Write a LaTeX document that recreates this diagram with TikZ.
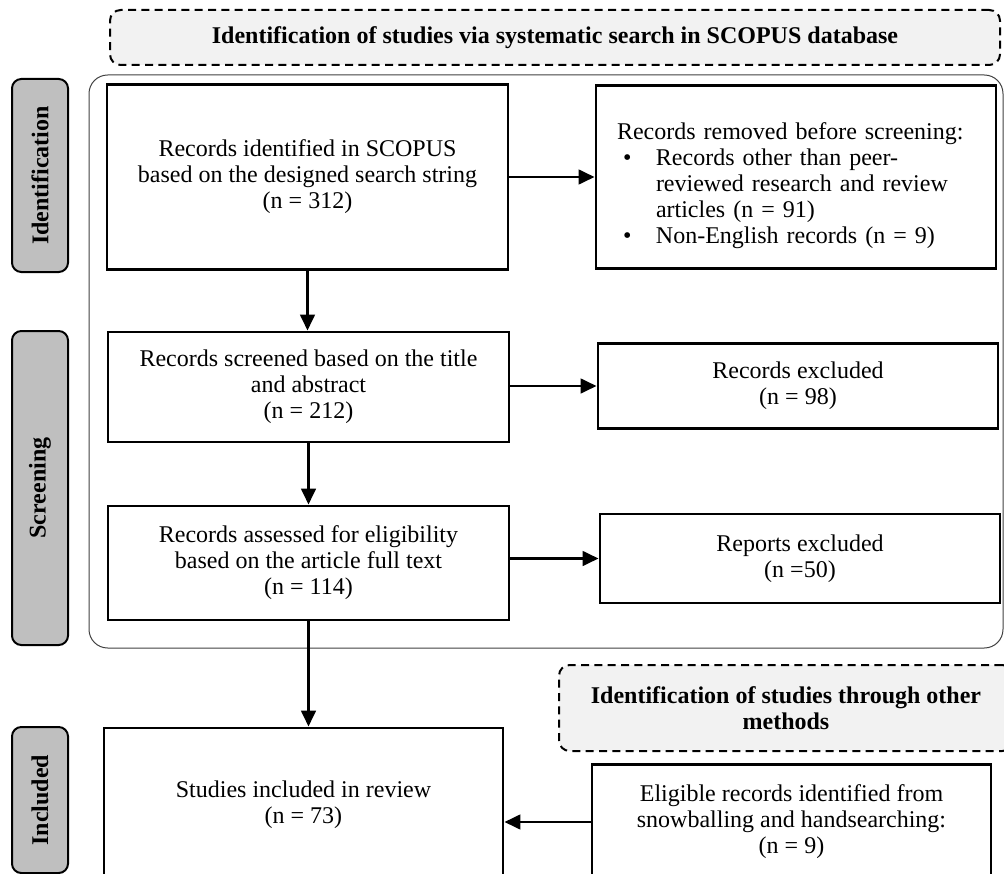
\documentclass[tikz,border=0pt]{standalone}
\usepackage{fontspec}
\setmainfont{Liberation Serif}
\usetikzlibrary{arrows.meta}
\definecolor{hdrgray}{HTML}{F2F2F2}
\definecolor{tabgray}{HTML}{BFBFBF}
\begin{document}
\begin{tikzpicture}[x=0.75pt,y=-0.75pt,
  box/.style={draw, line width=2.2pt, fill=white, align=center, inner sep=0pt,
    font=\fontsize{18}{19.5}\selectfont},
  dashbox/.style={draw, line width=1.5pt, dash pattern=on 6pt off 4pt, fill=hdrgray,
    rounded corners=8pt, align=center, inner sep=0pt,
    font=\bfseries\fontsize{18}{19.5}\selectfont},
  tabbox/.style={draw, line width=1.5pt, fill=tabgray, rounded corners=7pt, rotate=90,
    minimum height=42pt, inner sep=0pt, font=\bfseries\fontsize{18}{19.5}\selectfont},
  arr/.style={line width=2pt, -{Triangle[length=12pt,width=11pt]}}
]
\useasboundingbox (0,0) rectangle (1004,874);
\clip (0,0) rectangle (1004,874);

% header and frame
\node[dashbox, minimum width=667.5pt, minimum height=41.25pt] (hdr1) at (555,37.5)
  {Identification of studies via systematic search in SCOPUS database};
\draw[line width=0.75pt, black!75, rounded corners=14pt] (89,75) rectangle (1003,648);

% side tabs
\node[tabbox, minimum width=144.75pt] (tid) at (40,175.5) {Identification};
\node[tabbox, minimum width=235.5pt] (tsc) at (40,488) {Screening};
\node[tabbox, minimum width=109.5pt] (tin) at (40,800) {Included};

% boxes
\node[box, minimum width=300.75pt, minimum height=138.75pt] (b1) at (307.5,177)
  {Records identified in SCOPUS\\based on the designed search string\\(n = 312)};
\node[box, minimum width=300pt, minimum height=137.25pt, text width=268.5pt, align=left] (b2) at (796,177)
  {\rule{0pt}{26pt}Records removed before screening:\\
   \hspace*{4.5pt}\makebox[24.75pt][l]{•}Records other than peer-\\
   \hspace*{29.25pt}reviewed research and review\\
   \hspace*{29.25pt}articles (n = 91)\\
   \hspace*{4.5pt}\makebox[24.75pt][l]{•}Non-English records (n = 9)};
\node[box, minimum width=300.75pt, minimum height=82.5pt] (b3) at (308.5,387)
  {Records screened based on the title\\and abstract\\(n = 212)};
\node[box, minimum width=300pt, minimum height=63.75pt] (b4) at (798,386)
  {Records excluded\\(n = 98)};
\node[box, minimum width=300.75pt, minimum height=85.5pt] (b5) at (308.5,563)
  {Records assessed for eligibility\\based on the article full text\\(n = 114)};
\node[box, minimum width=300pt, minimum height=66.75pt] (b6) at (800,558.5)
  {Reports excluded\\(n =50)};
\node[box, minimum width=299.25pt, minimum height=115.5pt] (b7) at (303.5,805)
  {Studies included in review\\(n = 73)};
\node[dashbox, minimum width=340.5pt, minimum height=64.5pt] (hdr2) at (786,708)
  {Identification of studies through other\\methods};
\node[box, minimum width=299.25pt, minimum height=86pt] (b8) at (791.5,822)
  {Eligible records identified from\\snowballing and handsearching:\\(n = 9)};

% arrows
\draw[arr] (b1.east) -- (b2.west);
\draw[arr] (b1.south) -- (b1.south |- b3.north);
\draw[arr] (b3.east |- b4.west) -- (b4.west);
\draw[arr] (b3.south) -- (b3.south |- b5.north);
\draw[arr] (b5.east |- b6.west) -- (b6.west);
\draw[arr] (b5.south) -- (b5.south |- b7.north);
\draw[arr] (b8.west) -- (b8.west -| b7.east);
\end{tikzpicture}
\end{document}
